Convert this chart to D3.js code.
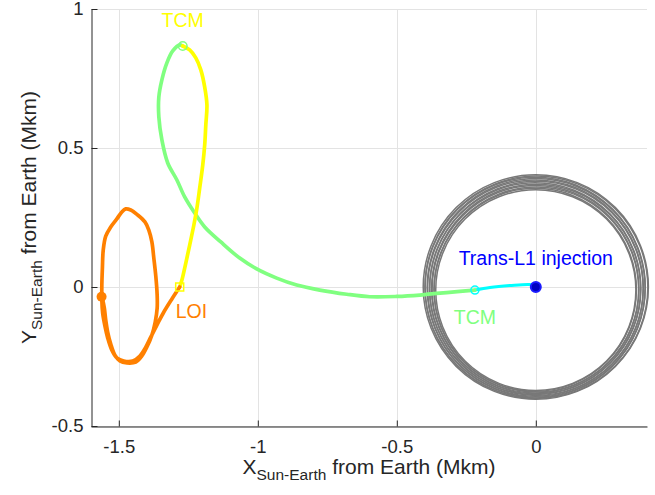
<!DOCTYPE html>
<html>
<head>
<meta charset="utf-8">
<script src="https://cdn.jsdelivr.net/npm/d3@7"></script>
<style>
  body { margin: 0; background: #fff; }
  svg { display: block; }
  text { font-family: "Liberation Sans", Arial, Helvetica, sans-serif; }
</style>
</head>
<body>
<svg id="chart" width="655" height="495"></svg>
<script>
// Axis ticks (Mkm)
const xTicks = [-1.5, -1, -0.5, 0];
const yTicks = [-0.5, 0, 0.5, 1];

// Moon's orbit in the Sun-Earth rotating frame: one ring per lunar month
// [centre x, centre y, radius x, radius y] in Mkm
const moonRings = [
  [0.000,  0.000, 0.405, 0.404],
  [0.002, -0.001, 0.401, 0.400],
  [-0.002, -0.002, 0.396, 0.397],
  [0.001, -0.003, 0.392, 0.393],
  [-0.001, -0.004, 0.388, 0.389],
  [0.002, -0.005, 0.384, 0.385],
  [-0.002, -0.006, 0.380, 0.381],
  [0.001, -0.007, 0.376, 0.377],
  [-0.001, -0.008, 0.372, 0.373],
  [0.002, -0.009, 0.368, 0.369],
  [-0.002, -0.010, 0.364, 0.365],
  [0.000, -0.011, 0.360, 0.361]
];

// Trajectory legs, [x, y] in Mkm
const injectionLeg = [
  [0.000, 0.004], [-0.022, 0.009], [-0.094, 0.005], [-0.165, -0.002], [-0.219, -0.011]
];

const cruiseLeg = [
  [-0.219, -0.011], [-0.273, -0.016], [-0.345, -0.022], [-0.417, -0.029], [-0.500, -0.034],
  [-0.597, -0.035], [-0.680, -0.026], [-0.777, -0.011], [-0.860, 0.007], [-0.932, 0.032],
  [-1.004, 0.065], [-1.065, 0.104], [-1.133, 0.162], [-1.191, 0.216], [-1.227, 0.266],
  [-1.263, 0.324], [-1.291, 0.385], [-1.324, 0.446], [-1.345, 0.529], [-1.356, 0.612],
  [-1.356, 0.683], [-1.345, 0.745], [-1.327, 0.806], [-1.306, 0.849], [-1.281, 0.871],
  [-1.270, 0.867]
];

const approachLeg = [
  [-1.270, 0.867], [-1.245, 0.853], [-1.223, 0.824], [-1.205, 0.781], [-1.191, 0.719],
  [-1.183, 0.655], [-1.187, 0.583], [-1.191, 0.511], [-1.198, 0.439], [-1.209, 0.356],
  [-1.219, 0.284], [-1.230, 0.223], [-1.245, 0.151], [-1.259, 0.086], [-1.273, 0.025],
  [-1.281, 0.000]
];

const haloLeg = [
  [-1.281, 0.000], [-1.309, -0.043], [-1.338, -0.090], [-1.363, -0.137], [-1.385, -0.180],
  [-1.403, -0.216], [-1.424, -0.248], [-1.450, -0.266], [-1.482, -0.266], [-1.507, -0.255],
  [-1.525, -0.227], [-1.540, -0.183], [-1.550, -0.140], [-1.558, -0.094], [-1.561, -0.047],
  [-1.561, 0.007], [-1.559, 0.068], [-1.556, 0.133], [-1.547, 0.183], [-1.529, 0.216],
  [-1.507, 0.245], [-1.489, 0.270], [-1.475, 0.281], [-1.457, 0.277], [-1.432, 0.259],
  [-1.406, 0.234], [-1.392, 0.205], [-1.381, 0.162], [-1.374, 0.104], [-1.367, 0.040],
  [-1.362, -0.029], [-1.362, -0.076], [-1.369, -0.126], [-1.381, -0.173], [-1.399, -0.216],
  [-1.417, -0.248], [-1.439, -0.270], [-1.471, -0.273], [-1.496, -0.266], [-1.514, -0.245],
  [-1.529, -0.205], [-1.540, -0.162], [-1.547, -0.119], [-1.552, -0.076], [-1.558, -0.047],
  [-1.562, -0.035]
];

// Event labels
const eventNames = ["Trans-L1 injection", "TCM", "TCM", "LOI"];

const svg = d3.select("#chart");
const padL = 91, padT = 9, plotW = 556, plotH = 417;

const x = d3.scaleLinear().domain([-1.6, 0.4]).range([padL, padL + plotW]);
const y = d3.scaleLinear().domain([-0.5, 1]).range([padT + plotH, padT]);

// grid
const grid = svg.append("g").attr("stroke", "#e3e3e3").attr("stroke-width", 1);
grid.selectAll("line.v").data(xTicks).join("line").attr("class", "v")
  .attr("x1", d => Math.round(x(d)) + 0.5).attr("x2", d => Math.round(x(d)) + 0.5)
  .attr("y1", padT).attr("y2", padT + plotH);
grid.selectAll("line.h").data(yTicks).join("line").attr("class", "h")
  .attr("y1", d => Math.round(y(d)) + 0.5).attr("y2", d => Math.round(y(d)) + 0.5)
  .attr("x1", padL).attr("x2", padL + plotW);

// Moon orbit rings
svg.append("g").attr("fill", "none").attr("stroke", "#787878").attr("stroke-width", 1.5)
  .selectAll("ellipse").data(moonRings).join("ellipse")
  .attr("cx", d => x(d[0])).attr("cy", d => y(d[1]))
  .attr("rx", d => x(d[0] + d[2]) - x(d[0]))
  .attr("ry", d => y(d[1]) - y(d[1] + d[3]));

const line = d3.line().x(d => x(d[0])).y(d => y(d[1])).curve(d3.curveCatmullRom.alpha(0.5));

const legs = [
  { pts: injectionLeg, color: "#00ffff", w: 3 },
  { pts: cruiseLeg, color: "#80ff80", w: 3.7 },
  { pts: approachLeg, color: "#ffff00", w: 3.7 },
  { pts: haloLeg, color: "#ff8000", w: 3.7 }
];
svg.append("g").selectAll("path").data(legs).join("path")
  .attr("d", d => line(d.pts))
  .attr("fill", "none")
  .attr("stroke", d => d.color)
  .attr("stroke-width", d => d.w)
  .attr("stroke-linejoin", "round")
  .attr("stroke-linecap", "round");

// event markers
const m = svg.append("g");
const inj = injectionLeg[0];
m.append("circle").attr("cx", x(inj[0])).attr("cy", y(inj[1]) + 1).attr("r", 5)
  .attr("fill", "#0000c0").attr("stroke", "#1a1aff").attr("stroke-width", 2);
const tcm1 = cruiseLeg[0];
m.append("circle").attr("cx", x(tcm1[0])).attr("cy", y(tcm1[1])).attr("r", 4)
  .attr("fill", "none").attr("stroke", "#00ffff").attr("stroke-width", 1.5);
const tcm2 = approachLeg[0];
m.append("circle").attr("cx", x(tcm2[0])).attr("cy", y(tcm2[1])).attr("r", 4.3)
  .attr("fill", "none").attr("stroke", "#80ff80").attr("stroke-width", 1.5);
const loi = haloLeg[0];
m.append("rect").attr("x", x(loi[0]) - 4).attr("y", y(loi[1]) - 4).attr("width", 8).attr("height", 8)
  .attr("fill", "none").attr("stroke", "#ffff00").attr("stroke-width", 1.5);
const fin = haloLeg[haloLeg.length - 1];
m.append("circle").attr("cx", x(fin[0])).attr("cy", y(fin[1])).attr("r", 5)
  .attr("fill", "#ff8000");

// event labels
const lab = svg.append("g").attr("font-size", "19.5px");
lab.append("text").attr("x", x(inj[0])).attr("y", y(inj[1]) - 21)
  .attr("text-anchor", "middle").attr("fill", "#0000ff").text(eventNames[0]);
lab.append("text").attr("x", x(tcm1[0])).attr("y", y(tcm1[1]) + 34)
  .attr("text-anchor", "middle").attr("fill", "#80ff80").text(eventNames[1]);
lab.append("text").attr("x", x(tcm2[0])).attr("y", y(tcm2[1]) - 19)
  .attr("text-anchor", "middle").attr("fill", "#ffff00").text(eventNames[2]);
lab.append("text").attr("x", x(loi[0]) - 4).attr("y", y(loi[1]) + 31)
  .attr("text-anchor", "start").attr("fill", "#ff8000").text(eventNames[3]);

// axes
const fmt = d => String(d);
const gx = svg.append("g").attr("transform", `translate(0,${padT + plotH + 0.5})`)
  .call(d3.axisBottom(x).tickValues(xTicks).tickFormat(fmt).tickSizeInner(-6).tickSizeOuter(0).tickPadding(13));
const gy = svg.append("g").attr("transform", `translate(${padL + 0.5},0)`)
  .call(d3.axisLeft(y).tickValues(yTicks).tickFormat(fmt).tickSizeInner(-6).tickSizeOuter(0).tickPadding(8));
[gx, gy].forEach(g => {
  g.select(".domain").attr("stroke", "#262626");
  g.selectAll(".tick line").attr("stroke", "#262626");
  g.selectAll(".tick text").attr("fill", "#262626").attr("font-size", "18.5px")
    .attr("font-family", "'Liberation Sans', Arial, sans-serif");
});

// axis titles
const xl = svg.append("text").attr("x", padL + plotW / 2).attr("y", 474)
  .attr("text-anchor", "middle").attr("fill", "#262626").attr("font-size", "21px");
xl.append("tspan").text("X");
xl.append("tspan").attr("font-size", "15.5px").attr("dy", 6).text("Sun-Earth");
xl.append("tspan").attr("dy", -6).text(" from Earth (Mkm)");

const yl = svg.append("text").attr("transform", `translate(36,${padT + plotH / 2}) rotate(-90)`)
  .attr("text-anchor", "middle").attr("fill", "#262626").attr("font-size", "21px");
yl.append("tspan").text("Y");
yl.append("tspan").attr("font-size", "15.5px").attr("dy", 6).text("Sun-Earth");
yl.append("tspan").attr("dy", -6).text(" from Earth (Mkm)");
</script>
</body>
</html>
